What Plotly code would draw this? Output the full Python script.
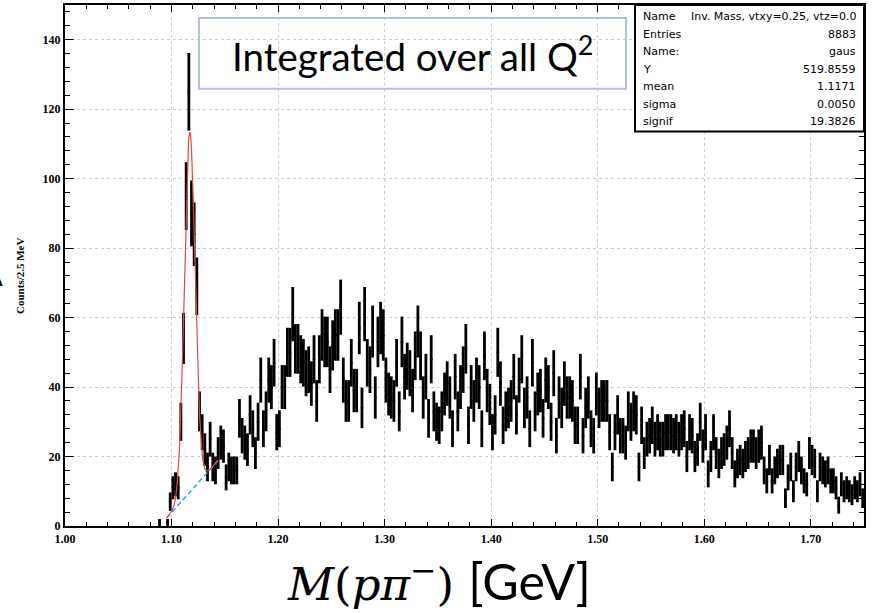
import numpy as np
import plotly.graph_objects as go

# ---- histogram: M(p pi-) in 2.5 MeV bins, first filled bin centred at 1.08875 GeV
bin_width = 0.0025
first_center = 1.08875
counts = [
    1, 0, 0, 1, 7, 11, 12, 11, 30, 54,
    95, 125, 90, 84, 69, 33, 27, 22, 17, 25,
    17, 16, 21, 24, 23, 14, 17, 16, 16, 16,
    31, 26, 24, 22, 32, 28, 21, 30, 42, 28,
    33, 42, 40, 47, 27, 28, 40, 40, 50, 50,
    61, 51, 51, 48, 47, 44, 45, 41, 48, 36,
    48, 55, 53, 53, 45, 52, 55, 55, 63, 42,
    36, 36, 47, 39, 39, 57, 34, 61, 47, 45,
    56, 37, 53, 57, 55, 42, 38, 37, 36, 47,
    33, 53, 43, 46, 44, 39, 49, 56,
    49, 37, 43, 31, 48, 33, 30, 29, 33, 38,
    41, 37, 28, 43, 33, 40, 45, 51, 29, 40,
    36, 42, 40, 28, 49, 39, 35, 27, 32, 50,
    41, 29, 33, 34, 36, 43, 32, 42, 48, 34,
    37, 28, 47, 33, 38, 39, 31, 42, 40,
    30, 44,
    26, 37, 34, 41, 37, 37, 36, 29, 29, 43,
    26, 34, 37, 28, 26, 38, 34, 36, 36, 36,
    27, 17, 27, 32, 26, 26, 24, 33, 30, 33,
    32, 17, 29, 21, 25, 26, 29, 25, 27, 25,
    25, 27, 27, 27, 26, 27, 25, 27, 28, 20,
    27, 26, 20,
    22, 30, 23, 27, 15, 20, 27, 21, 18, 21,
    22, 24, 28, 21, 15, 18, 19, 18, 20, 21,
    23, 23, 21, 23, 24, 16, 13, 19, 13, 16,
    18, 19, 19, 8, 14, 17, 10, 17, 20, 16,
    13, 12, 21, 19, 18, 10, 17, 16, 15, 16,
    13, 13, 11, 6, 12, 10, 11, 10, 9, 11,
    10, 12, 8,
]

# ---- fit: gaussian signal on a linear background
fit_yield = 519.8559
fit_mean = 1.1171
fit_sigma = 0.0050
fit_lo, fit_hi = 1.0955, 1.144
bg_at_lo = 2.3
bg_slope = 344.0

stat_names = ["Name", "Entries", "Name:", "Y", "mean", "sigma", "signif"]
stat_values = ["Inv. Mass, vtxy=0.25, vtz=0.0", "8883", "gaus",
               "519.8559", "1.1171", "0.0050", "19.3826"]

W, H = 874, 613
L, R, T, B = 65, 864, 3, 526


def px(x):
    return (x - L) / (R - L)


def py(y):
    return (B - y) / (B - T)


centers = first_center + bin_width * np.arange(len(counts))
cnt = np.array(counts, dtype=float)
filled = cnt > 0

fx = np.linspace(fit_lo, fit_hi, 120)
bg = bg_at_lo + bg_slope * (fx - fit_lo)
amp = fit_yield * bin_width / (fit_sigma * np.sqrt(2 * np.pi))
total = bg + amp * np.exp(-0.5 * ((fx - fit_mean) / fit_sigma) ** 2)

fig = go.Figure()
fig.add_trace(go.Scatter(
    x=centers[filled], y=cnt[filled], mode="markers",
    marker=dict(size=2, color="black"),
    error_y=dict(type="data", array=np.sqrt(cnt[filled]), thickness=2.8,
                 width=0, color="black"),
    error_x=dict(type="constant", value=bin_width / 2, thickness=1.5,
                 width=0, color="black"),
    showlegend=False, hoverinfo="skip"))
fig.add_trace(go.Scatter(
    x=fx, y=bg, mode="lines",
    line=dict(color="#2ba6d8", width=1.5, dash="5px,3px"),
    showlegend=False, hoverinfo="skip"))
fig.add_trace(go.Scatter(
    x=fx, y=total, mode="lines",
    line=dict(color="#e04848", width=1.2),
    showlegend=False, hoverinfo="skip"))

tick_font = dict(family="Liberation Serif", size=12, color="black", weight="bold")
fig.update_xaxes(
    range=[1.0, 1.75], tickmode="linear", tick0=1.0, dtick=0.1, tickformat=".2f",
    ticks="inside", ticklen=7, tickwidth=1.2, tickcolor="black",
    showline=True, linewidth=2.2, linecolor="black", mirror="ticks",
    showgrid=True, gridcolor="#cccccc", griddash="dot", gridwidth=1,
    minor=dict(tick0=1.0, dtick=0.02, ticks="inside", ticklen=4,
               tickcolor="black", tickwidth=1.2, showgrid=False),
    tickfont=tick_font, zeroline=False)
fig.update_yaxes(
    range=[0, 150], tickmode="linear", tick0=0, dtick=20,
    ticks="inside", ticklen=9, tickwidth=1.2, tickcolor="black",
    showline=True, linewidth=2.2, linecolor="black", mirror="ticks",
    showgrid=True, gridcolor="#cccccc", griddash="dot", gridwidth=1,
    minor=dict(tick0=0, dtick=4, ticks="inside", ticklen=5,
               tickcolor="black", tickwidth=1.2, showgrid=False),
    tickfont=tick_font, zeroline=False)

shapes = [
    # title box
    dict(type="rect", xref="paper", yref="paper",
         x0=px(199), x1=px(626), y0=py(87), y1=py(16),
         line=dict(color="#b3c0e6", width=2), fillcolor="rgba(0,0,0,0)"),
    # statistics box
    dict(type="rect", xref="paper", yref="paper",
         x0=px(635), x1=px(864), y0=py(130), y1=py(3),
         line=dict(color="black", width=2), fillcolor="white", layer="above"),
]

annotations = [
    dict(text="Integrated over all Q<sup>2</sup>", xref="paper", yref="paper",
         x=px(412), y=py(52), showarrow=False, xanchor="center", yanchor="middle",
         font=dict(family="Lato", size=38.5, color="black")),
    dict(text="Counts/2.5 MeV", xref="paper", yref="paper", textangle=-90,
         x=px(20), y=py(275), showarrow=False, xanchor="center", yanchor="middle",
         font=dict(family="Liberation Serif", size=11, color="black", weight="bold")),
    dict(text="<i>M</i>(<i>pπ</i><sup>−</sup>) "
              "<span style='font-family:Lato;font-size:50px'>[GeV]</span>",
         xref="paper", yref="paper", x=px(439), y=py(581), showarrow=False,
         xanchor="center", yanchor="middle",
         font=dict(family="DejaVu Serif", size=45, color="black")),
    dict(text="Λ", xref="paper", yref="paper", x=px(-5), y=py(278), showarrow=False,
         xanchor="center", yanchor="middle",
         font=dict(family="Liberation Sans", size=22, color="black", weight="bold")),
]

row_y = [15, 32.5, 50, 67.5, 85, 102.5, 120]
for name, val, yy in zip(stat_names, stat_values, row_y):
    annotations.append(dict(text=name, xref="paper", yref="paper", x=px(641), y=py(yy),
                            showarrow=False, xanchor="left", yanchor="middle",
                            font=dict(family="DejaVu Sans", size=11, color="black")))
    annotations.append(dict(text=val, xref="paper", yref="paper", x=px(858), y=py(yy),
                            showarrow=False, xanchor="right", yanchor="middle",
                            font=dict(family="DejaVu Sans", size=11, color="black")))

fig.update_layout(
    width=W, height=H,
    margin=dict(l=L, r=W - R, t=T, b=H - B, pad=0),
    paper_bgcolor="white", plot_bgcolor="white",
    shapes=shapes, annotations=annotations, showlegend=False)

fig.write_html("out.html")
